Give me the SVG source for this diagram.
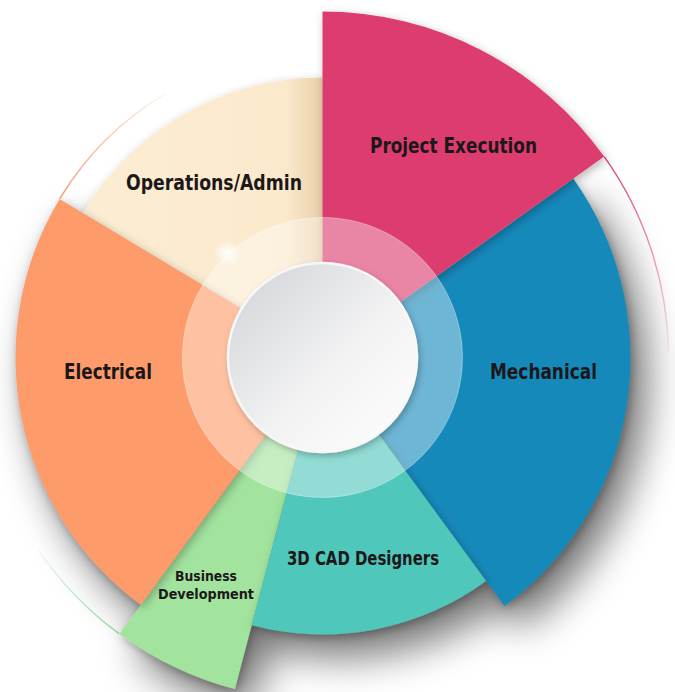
<svg xmlns="http://www.w3.org/2000/svg" width="675" height="692" viewBox="0 0 675 692">
  <style>
    .lbl { font-family: "Liberation Sans Narrow", "DejaVu Sans Condensed", "Liberation Sans", sans-serif; font-weight: bold; fill: #1c181a; text-anchor: middle; }
    .big { font-size: 22px; }
    .mid { font-size: 19px; }
    .small { font-size: 14px; }
    .seg { filter: url(#segShadow); }
    .tail { fill: none; stroke-width: 1.4; }
  </style>
  <defs>
    <filter id="bigShadow" x="-30%" y="-30%" width="160%" height="160%">
      <feGaussianBlur stdDeviation="20"/>
    </filter>
    <filter id="segShadow" x="-20%" y="-20%" width="140%" height="140%">
      <feDropShadow dx="2" dy="3" stdDeviation="5" flood-color="#000" flood-opacity="0.28"/>
    </filter>
    <filter id="circShadow" x="-20%" y="-20%" width="140%" height="140%">
      <feDropShadow dx="2" dy="3" stdDeviation="3" flood-color="#000" flood-opacity="0.25"/>
    </filter>
    <linearGradient id="innerGrad" x1="0" y1="0" x2="1" y2="1">
      <stop offset="0" stop-color="#cfd2d6"/>
      <stop offset="0.55" stop-color="#f2f2f3"/>
      <stop offset="1" stop-color="#ffffff"/>
    </linearGradient>
    <linearGradient id="opsGrad" x1="82" y1="0" x2="322" y2="0" gradientUnits="userSpaceOnUse">
      <stop offset="0" stop-color="#fcedd3"/>
      <stop offset="0.85" stop-color="#fbe9cc"/>
      <stop offset="1" stop-color="#e9cfa9"/>
    </linearGradient>
    <radialGradient id="sparkle">
      <stop offset="0" stop-color="#fff" stop-opacity="1"/>
      <stop offset="0.4" stop-color="#fff" stop-opacity="0.6"/>
      <stop offset="1" stop-color="#fff" stop-opacity="0"/>
    </radialGradient>
    <linearGradient id="pinkTail" x1="604" y1="157" x2="668" y2="352" gradientUnits="userSpaceOnUse">
      <stop offset="0" stop-color="#d8406e" stop-opacity="1"/>
      <stop offset="1" stop-color="#d8406e" stop-opacity="0.1"/>
    </linearGradient>
    <linearGradient id="greenTail" x1="119" y1="634" x2="38" y2="549" gradientUnits="userSpaceOnUse">
      <stop offset="0" stop-color="#8fd79a" stop-opacity="1"/>
      <stop offset="1" stop-color="#8fd79a" stop-opacity="0.1"/>
    </linearGradient>
    <linearGradient id="orangeTail" x1="60" y1="199" x2="164" y2="94" gradientUnits="userSpaceOnUse">
      <stop offset="0" stop-color="#f59a70" stop-opacity="1"/>
      <stop offset="1" stop-color="#f59a70" stop-opacity="0.1"/>
    </linearGradient>
  </defs>

  <rect width="675" height="692" fill="#ffffff"/>

  <!-- overall soft shadow -->
  <g id="backShadow" opacity="0.55" filter="url(#bigShadow)" transform="translate(16,22)" fill="#000">
    <path d="M322.5,357.5 L573.2,178.6 A308,308 0 0 1 504.4,606.1 Z"/>
    <path d="M322.5,357.5 L486.1,581.0 A277,277 0 0 1 251.7,625.3 Z"/>
    <path d="M322.5,357.5 L234.9,689.1 A343,343 0 0 1 119.4,633.9 Z"/>
    <path d="M322.5,357.5 L140.8,604.9 A307,307 0 0 1 59.6,198.9 Z"/>
  </g>

  <g id="tails">
    <path class="tail" stroke="url(#pinkTail)" d="M604.2,156.6 A346,346 0 0 1 668.4,351.5"/>
    <path class="tail" stroke="url(#greenTail)" d="M119.4,633.9 A343,343 0 0 1 38.1,549.3"/>
    <path class="tail" stroke="url(#orangeTail)" d="M59.6,198.9 A307,307 0 0 1 164.4,94.3"/>
  </g>

  <g id="mechanical">
    <path class="seg" fill="#1889bb" d="M322.5,357.5 L573.2,178.6 A308,308 0 0 1 504.4,606.1 Z"/>
  </g>
  <g id="operations-admin">
    <path class="seg" fill="url(#opsGrad)" d="M322.5,357.5 L82.7,212.9 A280,280 0 0 1 322.5,77.5 Z"/>
  </g>
  <g id="business-development">
    <path class="seg" fill="#a2e49e" d="M322.5,357.5 L234.9,689.1 A343,343 0 0 1 119.4,633.9 Z"/>
  </g>
  <g id="electrical">
    <path class="seg" fill="#fd9c6b" d="M322.5,357.5 L140.8,604.9 A307,307 0 0 1 59.6,198.9 Z"/>
  </g>
  <g id="cad-designers">
    <path class="seg" fill="#4fc7bb" d="M322.5,357.5 L486.1,581.0 A277,277 0 0 1 251.7,625.3 Z"/>
  </g>
  <g id="project-execution">
    <path class="seg" fill="#dd3e6e" d="M322.5,357.5 L322.5,11.5 A346,346 0 0 1 604.2,156.6 Z"/>
  </g>

  <!-- translucent ring and centre -->
  <g id="centre">
    <path fill="#ffffff" fill-opacity="0.38" fill-rule="evenodd" stroke="#ffffff" stroke-opacity="0.35" stroke-width="1"
      d="M322.5,217.5 A140,140 0 1 1 322.4,217.5 Z M322.5,262.5 A95,95 0 1 0 322.6,262.5 Z"/>
    <circle cx="227" cy="253" r="14" fill="url(#sparkle)"/>
    <circle cx="322.5" cy="357.5" r="94.5" fill="url(#innerGrad)" stroke="#f7f7f7" stroke-width="2.5" filter="url(#circShadow)"/>
  </g>

  <!-- labels -->
  <g id="labels">
    <text class="lbl big" x="453.5" y="153" textLength="167" lengthAdjust="spacingAndGlyphs">Project Execution</text>
    <text class="lbl big" x="214" y="190" textLength="176" lengthAdjust="spacingAndGlyphs">Operations/Admin</text>
    <text class="lbl big" x="108" y="379" textLength="88" lengthAdjust="spacingAndGlyphs">Electrical</text>
    <text class="lbl big" x="543.5" y="379" textLength="107" lengthAdjust="spacingAndGlyphs">Mechanical</text>
    <text class="lbl mid" x="363" y="565" textLength="152" lengthAdjust="spacingAndGlyphs">3D CAD Designers</text>
    <text class="lbl small" x="206" y="581" textLength="62" lengthAdjust="spacingAndGlyphs">Business</text>
    <text class="lbl small" x="206" y="598.5" textLength="96" lengthAdjust="spacingAndGlyphs">Development</text>
  </g>
</svg>
